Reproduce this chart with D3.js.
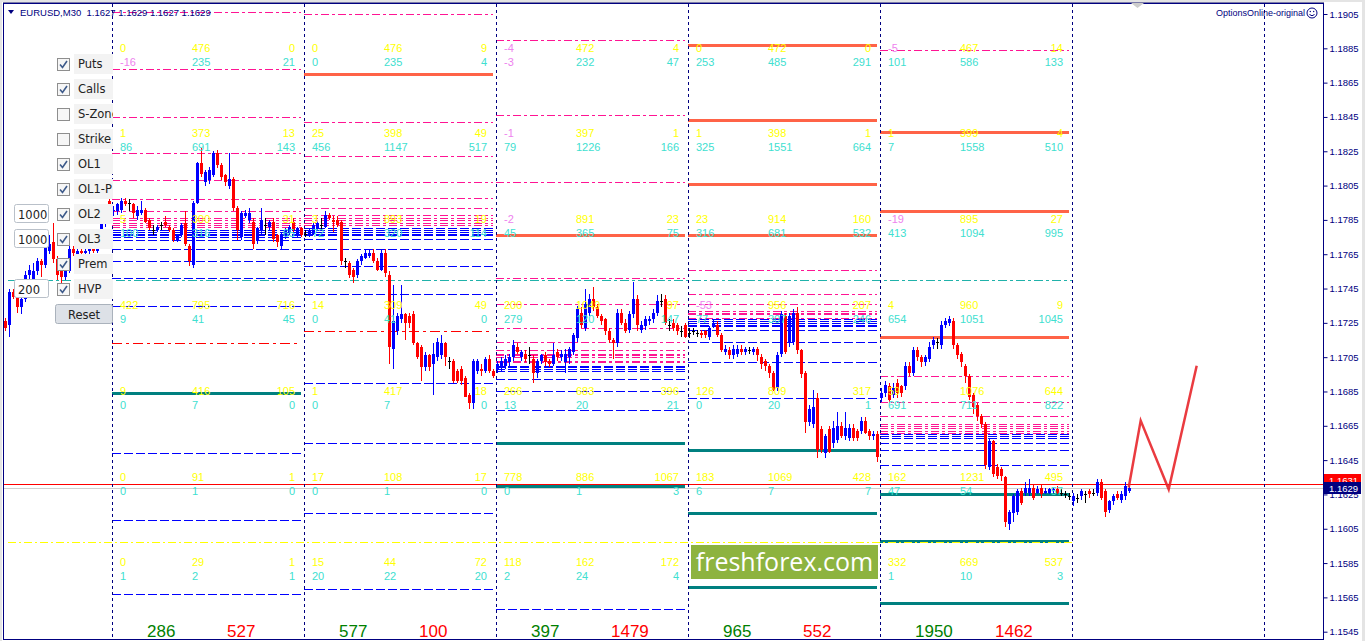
<!DOCTYPE html>
<meta charset="utf-8">
<title>EURUSD,M30</title>
<style>
body { margin: 0; background: #fff; }
svg { display: block; font-family: "Liberation Sans", Arial, sans-serif; }
.num { font-size: 11px; }
.axis text { font-size: 9.5px; fill: #000080; font-family: "Liberation Sans", Arial, sans-serif; }
.axis line { stroke: #000080; }
.panel text { font-family: "DejaVu Sans", sans-serif; font-size: 11.5px; fill: #222; }
</style>
<body>
<svg width="1365" height="641"></svg>
<script src="https://d3js.org/d3.v7.min.js"></script>
<script>

// --- candles, one array per day, [open, high, low, close]
var day0 = [
  [1.1726,1.1728,1.1720,1.1722],[1.1724,1.1745,1.1717,1.1743],[1.1743,1.1745,1.1739,1.1740],[1.1740,1.1741,1.1731,1.1734],
  [1.1734,1.1741,1.1730,1.1739],[1.1739,1.1755,1.1737,1.1753],[1.1753,1.1759,1.1749,1.1756],[1.1750,1.1760,1.1748,1.1755],
  [1.1755,1.1763,1.1753,1.1761],[1.1761,1.1762,1.1752,1.1759],[1.1759,1.1775,1.1757,1.1773],[1.1767,1.1776,1.1765,1.1771],
  [1.1772,1.1783,1.1760,1.1762],[1.1762,1.1764,1.1750,1.1753],[1.1755,1.1757,1.1748,1.1752],[1.1752,1.1757,1.1750,1.1755],
  [1.1755,1.1770,1.1754,1.1768],[1.1768,1.1770,1.1764,1.1766],[1.1765,1.1769,1.1763,1.1767],[1.1767,1.1769,1.1765,1.1766],
  [1.1766,1.1768,1.1764,1.1767],[1.1767,1.1770,1.1765,1.1768],[1.1768,1.1770,1.1766,1.1767],[1.1767,1.1772,1.1766,1.1771],
  [1.1778,1.1785,1.1776,1.1783],[1.1783,1.1792,1.1781,1.1790],[1.1796,1.1797,1.1793,1.1794]
];
var day1 = [
  [1.1790,1.1793,1.1787,1.1791],[1.1790,1.1795,1.1788,1.1794],[1.1791,1.1798,1.1789,1.1796],[1.1796,1.1798,1.1793,1.1794],
  [1.1795,1.1797,1.1790,1.1795],[1.1794,1.1795,1.1786,1.1789],[1.1787,1.1793,1.1785,1.1791],[1.1789,1.1796,1.1788,1.1791],
  [1.1791,1.1792,1.1783,1.1784],[1.1785,1.1786,1.1779,1.1780],[1.1779,1.1782,1.1776,1.1779],[1.1779,1.1782,1.1778,1.1781],
  [1.1782,1.1784,1.1779,1.1782],[1.1784,1.1787,1.1781,1.1782],[1.1781,1.1782,1.1778,1.1779],[1.1779,1.1780,1.1772,1.1773],
  [1.1773,1.1777,1.1772,1.1776],[1.1776,1.1783,1.1775,1.1782],[1.1783,1.1790,1.1770,1.1771],[1.1770,1.1771,1.1758,1.1761],
  [1.1759,1.1796,1.1757,1.1795],[1.1795,1.1819,1.1794,1.1818],[1.1818,1.1827,1.1810,1.1812],[1.1807,1.1814,1.1805,1.1813],
  [1.1808,1.1816,1.1806,1.1814],[1.1811,1.1825,1.1810,1.1824],[1.1824,1.1826,1.1815,1.1817],[1.1817,1.1818,1.1808,1.1810],
  [1.1811,1.1812,1.1805,1.1807],[1.1805,1.1824,1.1803,1.1809],[1.1809,1.1810,1.1790,1.1792],[1.1792,1.1793,1.1773,1.1779],
  [1.1775,1.1790,1.1773,1.1789],[1.1787,1.1791,1.1786,1.1789],[1.1785,1.1792,1.1783,1.1789],[1.1784,1.1786,1.1768,1.1771],
  [1.1773,1.1781,1.1771,1.1780],[1.1779,1.1792,1.1777,1.1785],[1.1782,1.1786,1.1776,1.1782],[1.1781,1.1785,1.1779,1.1784],
  [1.1784,1.1786,1.1772,1.1774],[1.1776,1.1777,1.1769,1.1772],[1.1770,1.1778,1.1768,1.1777],[1.1776,1.1780,1.1774,1.1779],
  [1.1778,1.1782,1.1776,1.1781],[1.1784,1.1786,1.1778,1.1779],[1.1777,1.1781,1.1775,1.1780],[1.1780,1.1781,1.1775,1.1776]
];
var day2 = [
  [1.1777,1.1779,1.1775,1.1777],[1.1777,1.1780,1.1775,1.1779],[1.1777,1.1783,1.1776,1.1782],[1.1780,1.1785,1.1779,1.1783],
  [1.1782,1.1786,1.1779,1.1782],[1.1781,1.1790,1.1780,1.1788],[1.1788,1.1789,1.1785,1.1786],[1.1785,1.1787,1.1778,1.1784],
  [1.1785,1.1787,1.1781,1.1782],[1.1784,1.1785,1.1759,1.1761],[1.1761,1.1763,1.1757,1.1761],[1.1760,1.1761,1.1751,1.1753],
  [1.1756,1.1757,1.1748,1.1752],[1.1753,1.1762,1.1751,1.1761],[1.1761,1.1765,1.1759,1.1764],[1.1763,1.1768,1.1762,1.1766],
  [1.1764,1.1768,1.1763,1.1766],[1.1766,1.1768,1.1760,1.1761],[1.1761,1.1763,1.1755,1.1756],[1.1756,1.1768,1.1755,1.1766],
  [1.1766,1.1768,1.1752,1.1754],[1.1753,1.1755,1.1701,1.1711],[1.1710,1.1747,1.1698,1.1726],[1.1720,1.1731,1.1718,1.1729],
  [1.1727,1.1747,1.1725,1.1730],[1.1730,1.1731,1.1715,1.1725],[1.1729,1.1731,1.1722,1.1725],[1.1730,1.1732,1.1712,1.1713],
  [1.1713,1.1714,1.1704,1.1705],[1.1711,1.1712,1.1691,1.1699],[1.1699,1.1708,1.1697,1.1706],[1.1706,1.1707,1.1697,1.1699],
  [1.1701,1.1713,1.1683,1.1707],[1.1705,1.1716,1.1703,1.1714],[1.1706,1.1718,1.1704,1.1713],[1.1713,1.1714,1.1700,1.1705],
  [1.1703,1.1705,1.1698,1.1703],[1.1703,1.1704,1.1690,1.1691],[1.1697,1.1698,1.1690,1.1691],[1.1698,1.1700,1.1689,1.1691],
  [1.1693,1.1694,1.1682,1.1682],[1.1683,1.1684,1.1675,1.1678],[1.1678,1.1704,1.1675,1.1703],[1.1697,1.1704,1.1695,1.1703],
  [1.1698,1.1701,1.1694,1.1697],[1.1697,1.1705,1.1696,1.1704],[1.1704,1.1706,1.1696,1.1697],[1.1697,1.1698,1.1693,1.1694]
];
var day3 = [
  [1.1698,1.1703,1.1696,1.1701],[1.1699,1.1705,1.1697,1.1703],[1.1700,1.1706,1.1698,1.1704],[1.1702,1.1707,1.1700,1.1705],
  [1.1705,1.1715,1.1703,1.1712],[1.1711,1.1713,1.1707,1.1708],[1.1705,1.1709,1.1703,1.1708],[1.1707,1.1709,1.1702,1.1704],
  [1.1706,1.1711,1.1701,1.1706],[1.1704,1.1706,1.1690,1.1696],[1.1696,1.1704,1.1693,1.1703],[1.1703,1.1707,1.1701,1.1706],
  [1.1706,1.1708,1.1700,1.1702],[1.1703,1.1704,1.1699,1.1701],[1.1701,1.1713,1.1700,1.1706],[1.1708,1.1710,1.1703,1.1705],
  [1.1705,1.1709,1.1703,1.1707],[1.1702,1.1710,1.1696,1.1707],[1.1705,1.1711,1.1701,1.1710],[1.1708,1.1719,1.1706,1.1718],
  [1.1716,1.1735,1.1714,1.1733],[1.1731,1.1734,1.1722,1.1724],[1.1722,1.1745,1.1720,1.1736],[1.1731,1.1742,1.1729,1.1739],
  [1.1739,1.1746,1.1732,1.1734],[1.1734,1.1736,1.1728,1.1729],[1.1729,1.1730,1.1724,1.1726],[1.1727,1.1728,1.1718,1.1720],
  [1.1720,1.1722,1.1713,1.1715],[1.1715,1.1716,1.1704,1.1713],[1.1713,1.1733,1.1711,1.1731],[1.1731,1.1733,1.1724,1.1725],
  [1.1725,1.1727,1.1719,1.1720],[1.1721,1.1732,1.1719,1.1730],[1.1730,1.1749,1.1728,1.1739],[1.1739,1.1741,1.1720,1.1724],
  [1.1721,1.1726,1.1719,1.1724],[1.1723,1.1729,1.1721,1.1727],[1.1726,1.1729,1.1724,1.1727],[1.1727,1.1733,1.1725,1.1731],
  [1.1731,1.1741,1.1729,1.1738],[1.1738,1.1742,1.1734,1.1738],[1.1739,1.1741,1.1724,1.1725],[1.1724,1.1727,1.1720,1.1724],
  [1.1725,1.1727,1.1720,1.1722],[1.1724,1.1725,1.1718,1.1720],[1.1720,1.1723,1.1717,1.1720],[1.1724,1.1725,1.1716,1.1717]
];
var day4 = [
  [1.1719,1.1722,1.1716,1.1719],[1.1720,1.1722,1.1718,1.1720],[1.1719,1.1721,1.1717,1.1719],[1.1719,1.1721,1.1716,1.1718],
  [1.1720,1.1721,1.1716,1.1718],[1.1717,1.1723,1.1715,1.1722],[1.1723,1.1727,1.1722,1.1725],[1.1724,1.1726,1.1717,1.1718],
  [1.1718,1.1719,1.1708,1.1709],[1.1708,1.1712,1.1706,1.1710],[1.1709,1.1711,1.1704,1.1706],[1.1706,1.1712,1.1704,1.1710],
  [1.1707,1.1712,1.1705,1.1710],[1.1710,1.1712,1.1706,1.1708],[1.1708,1.1711,1.1706,1.1710],[1.1709,1.1711,1.1707,1.1709],
  [1.1708,1.1711,1.1706,1.1710],[1.1710,1.1711,1.1703,1.1706],[1.1705,1.1707,1.1698,1.1701],[1.1703,1.1704,1.1697,1.1700],
  [1.1700,1.1701,1.1693,1.1696],[1.1696,1.1697,1.1685,1.1686],[1.1687,1.1708,1.1685,1.1706],[1.1707,1.1732,1.1705,1.1730],
  [1.1729,1.1731,1.1707,1.1708],[1.1713,1.1731,1.1711,1.1729],[1.1714,1.1733,1.1712,1.1731],[1.1731,1.1734,1.1707,1.1709],
  [1.1709,1.1710,1.1693,1.1695],[1.1696,1.1697,1.1661,1.1667],[1.1667,1.1677,1.1665,1.1675],[1.1666,1.1686,1.1664,1.1676],
  [1.1681,1.1684,1.1646,1.1651],[1.1663,1.1665,1.1649,1.1651],[1.1649,1.1660,1.1646,1.1659],[1.1663,1.1665,1.1649,1.1650],
  [1.1655,1.1668,1.1652,1.1664],[1.1657,1.1673,1.1655,1.1665],[1.1665,1.1667,1.1658,1.1659],[1.1659,1.1673,1.1657,1.1664],
  [1.1658,1.1666,1.1656,1.1664],[1.1664,1.1666,1.1656,1.1658],[1.1662,1.1663,1.1656,1.1658],[1.1662,1.1670,1.1660,1.1668],
  [1.1668,1.1670,1.1660,1.1661],[1.1662,1.1663,1.1657,1.1659],[1.1659,1.1662,1.1657,1.1660],[1.1660,1.1662,1.1644,1.1647]
];
var day5 = [
  [1.1681,1.1687,1.1679,1.1684],[1.1684,1.1691,1.1682,1.1689],[1.1688,1.1690,1.1678,1.1680],[1.1683,1.1690,1.1681,1.1687],
  [1.1690,1.1692,1.1681,1.1684],[1.1688,1.1689,1.1682,1.1684],[1.1688,1.1702,1.1686,1.1700],[1.1700,1.1702,1.1694,1.1696],
  [1.1696,1.1711,1.1694,1.1709],[1.1709,1.1711,1.1703,1.1705],[1.1705,1.1706,1.1699,1.1702],[1.1702,1.1706,1.1700,1.1705],
  [1.1704,1.1714,1.1702,1.1711],[1.1712,1.1717,1.1710,1.1715],[1.1714,1.1716,1.1710,1.1714],[1.1712,1.1726,1.1710,1.1724],
  [1.1724,1.1728,1.1722,1.1726],[1.1725,1.1729,1.1723,1.1727],[1.1726,1.1728,1.1710,1.1712],[1.1712,1.1713,1.1704,1.1706],
  [1.1707,1.1708,1.1699,1.1702],[1.1700,1.1701,1.1690,1.1694],[1.1694,1.1695,1.1680,1.1682],[1.1683,1.1684,1.1672,1.1676],
  [1.1677,1.1678,1.1668,1.1671],[1.1671,1.1672,1.1664,1.1666],[1.1666,1.1667,1.1640,1.1642],[1.1641,1.1658,1.1639,1.1656],
  [1.1656,1.1657,1.1635,1.1637],[1.1641,1.1643,1.1634,1.1636],[1.1640,1.1641,1.1633,1.1636],[1.1635,1.1636,1.1606,1.1609],
  [1.1608,1.1616,1.1604,1.1615],[1.1614,1.1625,1.1609,1.1624],[1.1615,1.1628,1.1613,1.1627],[1.1627,1.1629,1.1619,1.1620],
  [1.1626,1.1632,1.1624,1.1629],[1.1626,1.1634,1.1624,1.1629],[1.1629,1.1631,1.1622,1.1623],[1.1626,1.1630,1.1625,1.1628],
  [1.1629,1.1631,1.1623,1.1625],[1.1626,1.1629,1.1625,1.1627],[1.1626,1.1629,1.1625,1.1628],[1.1627,1.1629,1.1626,1.1628],
  [1.1628,1.1630,1.1625,1.1626],[1.1626,1.1628,1.1624,1.1626],[1.1625,1.1627,1.1623,1.1625],[1.1624,1.1626,1.1622,1.1624]
];
var day6 = [
  [1.1621,1.1626,1.1618,1.1624],[1.1623,1.1625,1.1620,1.1623],[1.1624,1.1628,1.1622,1.1627],[1.1625,1.1627,1.1620,1.1625],
  [1.1627,1.1628,1.1623,1.1625],[1.1626,1.1628,1.1624,1.1626],[1.1626,1.1634,1.1624,1.1632],[1.1632,1.1634,1.1622,1.1623],
  [1.1627,1.1628,1.1612,1.1615],[1.1616,1.1622,1.1614,1.1621],[1.1621,1.1625,1.1619,1.1624],[1.1625,1.1627,1.1622,1.1623],
  [1.1622,1.1627,1.1620,1.1625],[1.1624,1.1632,1.1622,1.1630],[1.1627,1.1630,1.1626,1.1629]
];

// first bar of each trading day (period separators)
var dayStarts = [27, 75, 123, 171, 219, 267, 315];

// forecast zig-zag: [bar, price]
var forecast = [[281, 1.1629], [284, 1.1668], [291, 1.1628], [298, 1.1700]];

// option levels per day column
var pinkLevels = [
  [1.1906, 1.1873, 1.1845, 1.1824, 1.1808, 1.1797, 1.1790, 1.1786, 1.1785, 1.1783, 1.1782, 1.1781],
  [1.1905, 1.1842, 1.1822, 1.1807, 1.1798, 1.1792, 1.1788, 1.1786, 1.1785, 1.1783, 1.1782],
  [1.1890, 1.1846, 1.1807, 1.1751, 1.1736, 1.1722, 1.1714, 1.1709, 1.1707, 1.1706, 1.1705, 1.1703, 1.1702],
  [1.1756, 1.1742, 1.1736, 1.1732, 1.1731, 1.1730, 1.1728],
  [1.1884, 1.1694, 1.1679, 1.1671, 1.1666, 1.1665, 1.1664, 1.1662, 1.1661]
];
var blueLevels = [
  [1.1779, 1.1778, 1.1777, 1.1776, 1.1775, 1.1773, 1.1768, 1.1761, 1.1751, 1.1735, 1.1649, 1.1610, 1.1567],
  [1.1780, 1.1779, 1.1778, 1.1777, 1.1776, 1.1774, 1.1768, 1.1758, 1.1742, 1.1690, 1.1655, 1.1614, 1.1570],
  [1.1700, 1.1699, 1.1698, 1.1697, 1.1692, 1.1685, 1.1674, 1.1558],
  [1.1727, 1.1726, 1.1725, 1.1724, 1.1723, 1.1721, 1.1714, 1.1702, 1.1681],
  [1.1660, 1.1659, 1.1658, 1.1655, 1.1651, 1.1642]
];
var orangeLevels = [[], [1.1870], [1.1776], [1.1887, 1.1843, 1.1806, 1.1776], [1.1836, 1.1790, 1.1717]];
var tealLevels = [[1.1684], [], [1.1655, 1.1630], [1.1651, 1.1614, 1.1571], [1.1625, 1.1598, 1.1562]];
var redLevels = [[1.1713], [1.1720], [], [], []];
var cyanLevel = 1.1750, yellowLevel = 1.1597;
var ask = 1.1631, bid = 1.1629;

// strike rows with yellow / turquoise triples per column
var strikes = [1.1900, 1.1850, 1.1800, 1.1750, 1.1700, 1.1650, 1.1600];
var yellowRows = [
  [[0,476,0],[1,373,13],[5,300,31],[422,795,716],[9,416,105],[0,91,1],[0,29,1]],
  [[0,476,9],[25,398,49],[3,893,19],[14,309,49],[1,417,18],[17,108,17],[15,44,72]],
  [[-4,472,4],[-1,397,1],[-2,891,23],[200,1049,97],[266,683,396],[778,886,1067],[118,162,172]],
  [[0,472,0],[1,398,1],[23,914,160],[-53,956,207],[126,809,317],[183,1069,428],null],
  [[-5,467,14],[1,399,4],[-19,895,27],[4,960,9],[59,1076,644],[162,1231,495],[332,669,537]]
];
var cyanRows = [
  [[-16,235,21],[86,691,143],[100,316,65],[9,41,45],[0,7,0],[0,1,0],[1,2,1]],
  [[0,235,4],[456,1147,517],[72,320,114],[0,41,0],[0,7,0],[0,1,0],[20,22,20]],
  [[-3,232,47],[79,1226,166],[45,365,75],[279,120,147],[13,20,21],[0,1,3],[2,24,4]],
  [[253,485,291],[325,1551,664],[316,681,532],[77,307,246],[0,20,1],[6,7,7],null],
  [[101,586,133],[7,1558,510],[413,1094,995],[654,1051,1045],[691,711,822],[47,54,57],[1,10,3]]
];
var buyTotals = [286, 577, 397, 965, 1950];
var sellTotals = [527, 100, 1479, 552, 1462];

var priceTicks = [1.1905,1.1885,1.1865,1.1845,1.1825,1.1805,1.1785,1.1765,1.1745,1.1725,
                  1.1705,1.1685,1.1665,1.1645,1.1625,1.1605,1.1585,1.1565,1.1545];

var panelItems = ["Puts","Calls","S-Zone","Strike","OL1","OL1-P","OL2","OL3","Prem","HVP"];
var panelChecked = [true,true,false,false,true,true,true,true,true,true];
var panelInputs = [["1000", 6], ["1000", 7], ["200", 9]];

// ------------------------------------------------------------------
var svg = d3.select("svg");
var x = d3.scaleLinear().domain([0, 330]).range([4.7, 1324.7]);
var y = d3.scaleLinear().domain([1.1545, 1.1905]).range([631.7, 14]);
var snap = function(v) { return Math.round(v) + 0.5; };
var colX = function(c) { return Math.round(x(dayStarts[c]) - 0.7); };

svg.append("rect").attr("width", 1365).attr("height", 641).attr("fill", "#e4e4e4");
svg.append("rect").attr("x", 2).attr("y", 2).attr("width", 1360).attr("height", 639).attr("fill", "#fff");

var g = svg.append("g").attr("shape-rendering", "crispEdges");

// strike numbers
var tx = svg.append("g").attr("class", "num");
yellowRows.forEach(function(rows, c) {
  var x0 = colX(c);
  rows.forEach(function(r, k) {
    if (!r) return;
    [[r, "#ffff00", 29], [cyanRows[c][k], "#40e0d0", 43]].forEach(function(s) {
      var vals = s[0], base = Math.round(y(strikes[k])) + s[2];
      vals.forEach(function(v, j) {
        tx.append("text")
          .attr("x", j == 0 ? x0 + 8 : j == 1 ? x0 + 80 : x0 + 183)
          .attr("y", base)
          .attr("text-anchor", j == 2 ? "end" : "start")
          .attr("fill", v < 0 ? "#ee82ee" : s[1])
          .text(v);
      });
    });
  });
});

// level lines
function levels(sets, color, width, dash) {
  sets.forEach(function(lv, c) {
    g.append("g").selectAll("line").data(lv).enter().append("line")
      .attr("x1", colX(c)).attr("x2", colX(c + 1) - 3)
      .attr("y1", function(d) { return snap(y(d)); })
      .attr("y2", function(d) { return snap(y(d)); })
      .attr("stroke", color).attr("stroke-width", width)
      .attr("stroke-dasharray", dash);
  });
}
levels(pinkLevels, "#ff1493", 1, "8,3,3,3");
levels(blueLevels, "#0000ff", 1, "9,3");
levels(redLevels, "#ff0000", 1, "10,4,3,4");
levels(orangeLevels, "#ff6347", 3, null);
levels(tealLevels, "#008080", 3, null);

g.append("line").attr("x1", 8).attr("x2", colX(5)).attr("y1", snap(y(cyanLevel))).attr("y2", snap(y(cyanLevel)))
  .attr("stroke", "#20b2aa").attr("stroke-dasharray", "9,3,3,3");
g.append("line").attr("x1", 8).attr("x2", colX(5)).attr("y1", snap(y(yellowLevel))).attr("y2", snap(y(yellowLevel)))
  .attr("stroke", "#ffff00").attr("stroke-dasharray", "8,3,2,3");
g.append("line").attr("x1", 4).attr("x2", 1323).attr("y1", snap(y(bid))).attr("y2", snap(y(bid))).attr("stroke", "#cfcfcf");
g.append("line").attr("x1", 4).attr("x2", 1323).attr("y1", snap(y(ask))).attr("y2", snap(y(ask))).attr("stroke", "#ff0000");

// period separators
g.selectAll(".sep").data(dayStarts).enter().append("line")
  .attr("x1", function(d, k) { return colX(k) + 0.5; })
  .attr("x2", function(d, k) { return colX(k) + 0.5; })
  .attr("y1", 4).attr("y2", 639)
  .attr("stroke", "#000080").attr("stroke-dasharray", "3,3");

// candles
var bars = [].concat(day0, day1, day2, day3, day4, day5, day6).map(function(b, i) {
  return { i: i, o: b[0], h: b[1], l: b[2], c: b[3] };
});
var col = function(d) { return d.c > d.o ? "#0000ff" : d.c < d.o ? "#ff0000" : "#000"; };
var cg = g.append("g");
cg.selectAll(".wick").data(bars).enter().append("line")
  .attr("x1", function(d) { return Math.round(x(d.i)) + 0.5; })
  .attr("x2", function(d) { return Math.round(x(d.i)) + 0.5; })
  .attr("y1", function(d) { return Math.round(y(d.h)); })
  .attr("y2", function(d) { return Math.round(y(d.l)); })
  .attr("stroke", col);
cg.selectAll(".body").data(bars).enter().append("rect")
  .attr("x", function(d) { return Math.round(x(d.i)) - 1; })
  .attr("y", function(d) { return Math.round(y(Math.max(d.o, d.c))); })
  .attr("width", 3)
  .attr("height", function(d) { return Math.max(1, Math.round(y(Math.min(d.o, d.c))) - Math.round(y(Math.max(d.o, d.c)))); })
  .attr("fill", col);

// forecast path
svg.append("path")
  .datum(forecast)
  .attr("d", d3.line().x(function(d) { return x(d[0]); }).y(function(d) { return y(d[1]); }))
  .attr("fill", "none").attr("stroke", "#e8262b").attr("stroke-width", 2.5).attr("stroke-opacity", 0.9);

// daily totals
buyTotals.forEach(function(v, c) {
  svg.append("text").attr("x", colX(c) + 35).attr("y", 637).attr("font-size", 17).attr("fill", "#008000").text(v);
  svg.append("text").attr("x", colX(c) + 115).attr("y", 637).attr("font-size", 17).attr("fill", "#ff0000").text(sellTotals[c]);
});

// watermark
svg.append("rect").attr("x", 691).attr("y", 545).attr("width", 187).attr("height", 34).attr("fill", "#8db33f");
svg.append("text").attr("x", 784.5).attr("y", 571).attr("text-anchor", "middle")
  .attr("font-family", "'Open Sans', sans-serif").attr("font-size", 25).attr("fill", "#fff").text("freshforex.com");

// control panel
var panel = svg.append("g").attr("class", "panel");
svg.append("clipPath").attr("id", "lblclip").append("rect").attr("x", 74).attr("y", 0).attr("width", 39).attr("height", 641);
panelItems.forEach(function(name, k) {
  var cy = 64 + 25 * k;
  panel.append("rect").attr("x", 74).attr("y", cy - 10).attr("width", 39).attr("height", 20).attr("fill", "#f3f3f3");
  panel.append("text").attr("x", 78).attr("y", cy + 4).attr("clip-path", "url(#lblclip)").text(name);
  panel.append("rect").attr("x", 57.5).attr("y", cy - 5.5).attr("width", 12).attr("height", 12)
    .attr("fill", "#f6f6f6").attr("stroke", "#8e8e8e");
  if (panelChecked[k]) {
    panel.append("path").attr("d", "M60," + (cy + 0.5) + " l2.5,3 l4.5,-6.5")
      .attr("fill", "none").attr("stroke", "#3d5a8a").attr("stroke-width", 1.6);
  }
});
panelInputs.forEach(function(p) {
  var cy = 64 + 25 * p[1];
  panel.append("rect").attr("x", 14.5).attr("y", cy - 9.5).attr("width", 34).attr("height", 18).attr("rx", 2)
    .attr("fill", "#fff").attr("stroke", "#b9c0c9");
  panel.append("text").attr("x", 18).attr("y", cy + 4.5).attr("font-size", "12px").text(p[0]);
});
panel.append("rect").attr("x", 55.5).attr("y", 304.5).attr("width", 57).attr("height", 19).attr("rx", 2)
  .attr("fill", "#dde1e7").attr("stroke", "#aab2bc");
panel.append("text").attr("x", 84).attr("y", 318.5).attr("text-anchor", "middle").text("Reset");

// header
svg.append("path").attr("d", "M8,10 L14,10 L11,14 Z").attr("fill", "#000080");
svg.append("text").attr("x", 20).attr("y", 15.5).attr("font-size", "9.5px").attr("fill", "#000080")
  .style("white-space", "pre").text("EURUSD,M30  1.1627 1.1629 1.1627 1.1629");
svg.append("text").attr("x", 1305).attr("y", 16).attr("text-anchor", "end").attr("font-size", "9px").attr("fill", "#000080")
  .text("OptionsOnline-original");
svg.append("circle").attr("cx", 1312).attr("cy", 13).attr("r", 5).attr("fill", "none").attr("stroke", "#000080");
svg.append("path").attr("d", "M1309.5,14.5 q2.5,2.5 5,0").attr("fill", "none").attr("stroke", "#000080");
svg.append("circle").attr("cx", 1310.3).attr("cy", 11.5).attr("r", 0.7).attr("fill", "#000080");
svg.append("circle").attr("cx", 1313.7).attr("cy", 11.5).attr("r", 0.7).attr("fill", "#000080");
svg.append("path").attr("d", "M1131,3 L1144,3 L1137.5,8 Z").attr("fill", "#cccccc");

// frame and price axis
g.append("rect").attr("x", 3.5).attr("y", 3.5).attr("width", 1320).attr("height", 636)
  .attr("fill", "none").attr("stroke", "#000080");
g.append("line").attr("x1", 3).attr("x2", 1324).attr("y1", 2.5).attr("y2", 2.5).attr("stroke", "#7c7ca8");

svg.append("g").attr("class", "axis").attr("transform", "translate(1323.5,0)")
  .call(d3.axisRight(y).tickValues(priceTicks).tickSize(4).tickPadding(2).tickFormat(d3.format(".4f")))
  .call(function(a) { a.select(".domain").remove(); });

// ask label sits partly under the bid label, as in the terminal
[[ask, "#ff0000", -4], [bid, "#000080", 0]].forEach(function(p) {
  var cy = Math.round(y(p[0])) + p[2];
  svg.append("rect").attr("x", 1324).attr("y", cy - 6).attr("width", 37).attr("height", 12).attr("fill", p[1]);
  svg.append("text").attr("x", 1329).attr("y", cy + 4).attr("font-size", "9.5px").attr("fill", "#fff")
    .text(d3.format(".4f")(p[0]));
});

</script>
</body>
